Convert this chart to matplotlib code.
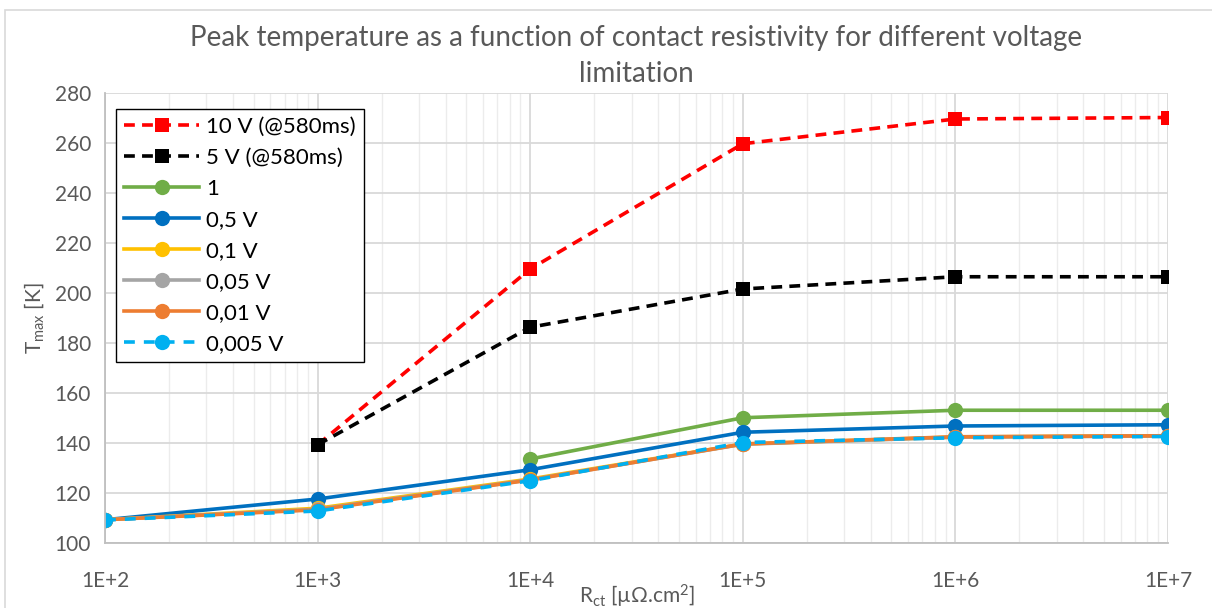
import numpy as np
import matplotlib.pyplot as plt
from matplotlib.patches import Rectangle

plt.rcParams['font.family'] = ['Lato', 'DejaVu Sans']
plt.rcParams['mathtext.default'] = 'regular'

r_ct = [1e2, 1e3, 1e4, 1e5, 1e6, 1e7]

t_10v = [None, 139.3, 209.6, 259.7, 269.6, 270.2]
t_5v = [None, 139.3, 186.3, 201.6, 206.5, 206.5]
t_1v = [None, None, 133.6, 150.1, 153.1, 153.1]
t_05v = [109.3, 117.6, 129.3, 144.3, 146.8, 147.3]
t_01v = [109.3, 113.9, 125.6, 139.6, 142.4, 142.9]
t_005v = [109.3, 113.5, 125.3, 139.5, 142.3, 142.8]
t_001v = [109.3, 113.3, 125.2, 139.6, 142.5, 142.9]
t_0005v = [109.2, 112.8, 124.9, 140.2, 142.1, 142.6]

labels = ['10 V (@580ms)', '5 V (@580ms)', '1', '0,5 V', '0,1 V',
          '0,05 V', '0,01 V', '0,005 V']
series = [t_10v, t_5v, t_1v, t_05v, t_01v, t_005v, t_001v, t_0005v]
colors = ['#ff0000', '#000000', '#70ad47', '#0070c0', '#ffc000',
          '#a5a5a5', '#ed7d31', '#00b0f0']
styles = [(0, (3, 2)), (0, (3, 2)), '-', '-', '-', '-', '-', (0, (3, 2.5))]
markers = ['s', 's', 'o', 'o', 'o', 'o', 'o', 'o']

fig = plt.figure(figsize=(12.12, 6.08), dpi=100)
ax = fig.add_axes([105 / 1212, 65 / 608, 1063 / 1212, 450 / 608])

for vals, lab, c, ls, m in zip(series, labels, colors, styles, markers):
    x = [r for r, v in zip(r_ct, vals) if v is not None]
    y = [v for v in vals if v is not None]
    ax.plot(x, y, color=c, linestyle=ls, linewidth=2.6, marker=m,
            markersize=11 if m == 'o' else 10, markeredgewidth=0,
            label=lab)

ax.set_xscale('log')
ax.set_xlim(1e2, 1e7)
ax.set_ylim(100, 280)
ax.set_yticks(np.arange(100, 281, 20))
ax.set_xticks(r_ct)
ax.set_xticklabels(['1E+2', '1E+3', '1E+4', '1E+5', '1E+6', '1E+7'])

ax.grid(True, which='major', color='#d9d9d9', linewidth=1.3)
ax.grid(True, which='minor', axis='x', color='#ececec', linewidth=1)
ax.set_axisbelow(True)
for s in ['top', 'right']:
    ax.spines[s].set_visible(False)
for s in ['left', 'bottom']:
    ax.spines[s].set_color('#bfbfbf')
    ax.spines[s].set_linewidth(1.3)
ax.tick_params(which='both', length=0, labelsize=15, colors='#595959', pad=10)
ax.tick_params(axis='x', pad=20)

ax.set_ylabel('T$_{max}$ [K]', fontsize=15, color='#595959', labelpad=6)
ax.set_xlabel('R$_{ct}$ [µΩ.cm$^2$]', fontsize=15, color='#595959', labelpad=-6)
ax.set_title('Peak temperature as a function of contact resistivity for different voltage\nlimitation',
             fontsize=20, color='#595959', pad=8, linespacing=1.45)

leg = ax.legend(loc='upper left', bbox_to_anchor=(0.0, 0.99), fontsize=16,
                frameon=True, fancybox=False, edgecolor='black',
                framealpha=1, handlelength=3.4, labelspacing=0.5,
                borderpad=0.35, handletextpad=0.3)
leg.get_frame().set_linewidth(1.0)

fig.patches.append(Rectangle((5 / 1212, -0.1), 1.1, 1.1 - 10 / 608,
                             transform=fig.transFigure, fill=False,
                             edgecolor='#d9d9d9', linewidth=1.2))

fig.savefig('out.png', dpi=100)
